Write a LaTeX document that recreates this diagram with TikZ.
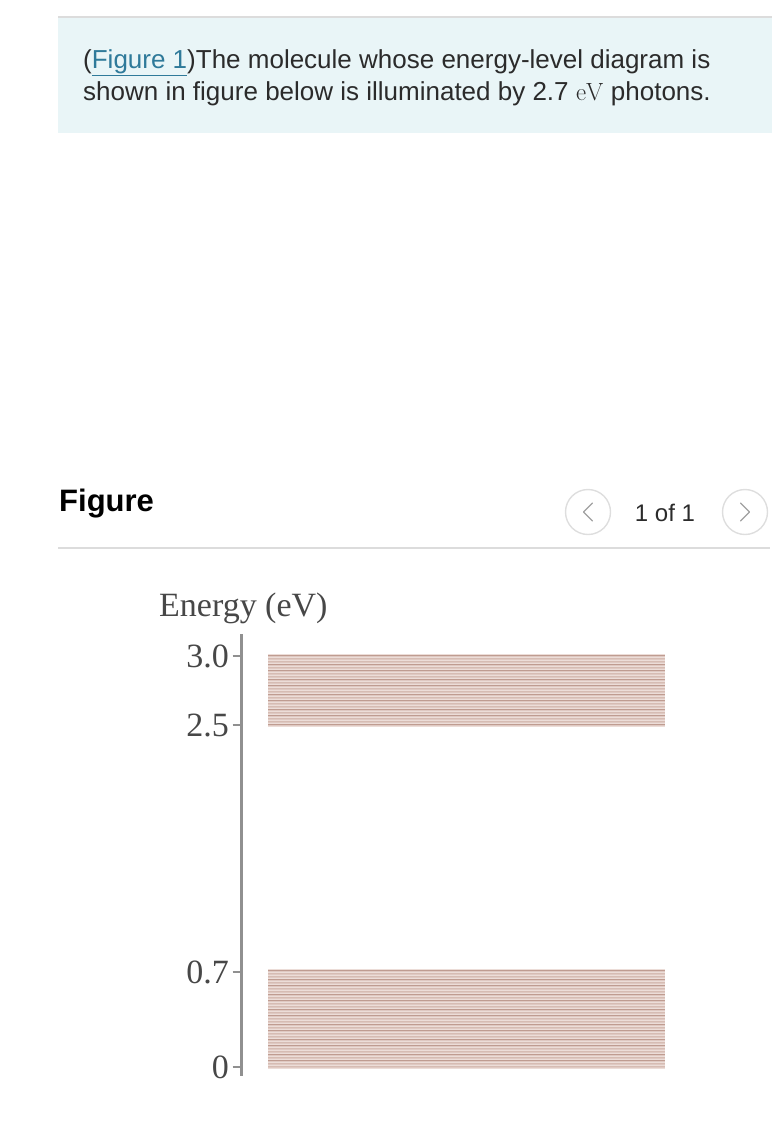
\documentclass[tikz,border=0pt]{standalone}
\usepackage[no-math]{fontspec}
\setmainfont{Liberation Sans}
\newfontfamily\serifimg{Liberation Serif}
\definecolor{boxbg}{HTML}{E9F5F7}
\definecolor{rulegray}{HTML}{DCDCDC}
\definecolor{linkblue}{HTML}{2F7A9A}
\definecolor{txt}{HTML}{2B2B2B}
\definecolor{axisgray}{HTML}{909090}
\definecolor{banddark}{HTML}{BF9C91}
\definecolor{bandmid}{HTML}{D6BCB3}
\definecolor{bandlight}{HTML}{ECDDD8}
\definecolor{btngray}{HTML}{DEDEDE}
\definecolor{chev}{HTML}{A0A0A0}
\tikzset{
  header/.style={anchor=base west, inner sep=0pt, font=\fontsize{26}{30}\selectfont, text=txt},
  serif/.style={inner sep=0pt, font=\serifimg\fontsize{34}{38}\selectfont, text=black!72},
  tick/.style={axisgray, line width=1.6pt},
  btn/.style={circle, draw=btngray, line width=1.4pt, minimum size=45pt, inner sep=0pt},
  chevron/.style={chev, line width=1.3pt, line cap=round, line join=round},
  stripe/.style={line width=1pt}
}
\begin{document}
\begin{tikzpicture}[x=1pt,y=-1pt]
\useasboundingbox (0,0) rectangle (780,1122);
% header box
\fill[boxbg] (58,18) rectangle (772,133);
\draw[rulegray, line width=2pt] (58,17) -- (772,17);
\node[header] (l1) at (83,68) {(\textcolor{linkblue}{\underline{Figure 1}})The molecule whose energy-level diagram is};
\node[header] (l2) at (83,100) {shown in figure below is illuminated by 2.7 {\fontsize{29}{30}\selectfont$\mathrm{eV}$} photons.};
% figure header
\node[anchor=base west, inner sep=0pt, font=\bfseries\fontsize{31}{34}\selectfont, text=black] (fig) at (59,511) {Figure};
\node[btn] (prev) at (588,512) {};
\node[btn] (next) at (745,512) {};
\draw[chevron] ([xshift=4.5pt,yshift=-9pt]prev.center) -- ([xshift=-4.5pt]prev.center) -- ([xshift=4.5pt,yshift=9pt]prev.center);
\draw[chevron] ([xshift=-4.5pt,yshift=-9pt]next.center) -- ([xshift=4.5pt]next.center) -- ([xshift=-4.5pt,yshift=9pt]next.center);
\node[anchor=base, inner sep=0pt, font=\fontsize{24}{28}\selectfont, text=txt] (pg) at (665,521) {1 of 1};
\draw[rulegray, line width=2pt] (58,548) -- (770,548);
% energy diagram
\node[serif, anchor=base west] (title) at (159,616) {Energy (eV)};
\coordinate (axtop) at (241.5,634);
\coordinate (axbot) at (241.5,1076);
\draw[axisgray, line width=2.2pt] (axtop) -- (axbot);
\foreach \y/\lab/\nm in {656/3.0/a, 725/2.5/b, 972/0.7/c, 1067/0/d}{
  \coordinate (t\nm) at (241.5,\y);
  \draw[tick] ([xshift=-9pt]t\nm) -- (t\nm);
  \node[serif, anchor=east] (lab\nm) at (229,\y) {\lab};
}
% bands
\fill[bandlight] (268,654) rectangle (665,727);
\foreach \i in {0,...,23}{
  \pgfmathsetmacro{\yy}{655.5+\i*3}
  \pgfmathsetmacro{\zz}{656.5+\i*3}
  \pgfmathtruncatemacro{\m}{mod(\i*7,5)}
  \ifnum\m<2 \draw[stripe, banddark] (268,\yy) -- (665,\yy);
  \else \draw[stripe, bandmid] (268,\yy) -- (665,\yy); \fi
  \draw[stripe, bandmid!60!bandlight] (268,\zz) -- (665,\zz);
}
\fill[bandlight] (268,969) rectangle (665,1069);
\foreach \i in {0,...,32}{
  \pgfmathsetmacro{\yy}{970.5+\i*3}
  \pgfmathsetmacro{\zz}{971.5+\i*3}
  \pgfmathtruncatemacro{\m}{mod(\i*7,5)}
  \ifnum\m<2 \draw[stripe, banddark] (268,\yy) -- (665,\yy);
  \else \draw[stripe, bandmid] (268,\yy) -- (665,\yy); \fi
  \draw[stripe, bandmid!60!bandlight] (268,\zz) -- (665,\zz);
}
\end{tikzpicture}
\end{document}
